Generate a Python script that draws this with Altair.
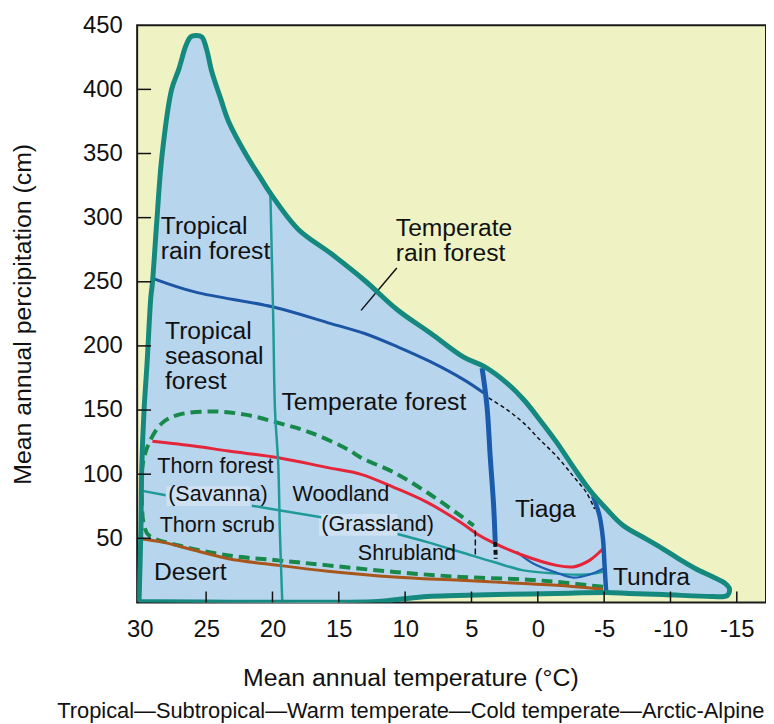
import altair as alt
import pandas as pd

# ---------------- data (temperature degC, precipitation cm) ----------------
outer_t = [30.05, 30.05, 29.92, 29.85, 29.68, 29.45, 29.17, 29.05, 28.72, 28.33, 27.6, 27.05, 26.53, 26.16,
           25.78, 25.33, 24.96, 24.58, 23.91, 23.31, 22.04, 20.84, 20.16, 18.07, 15.59, 13.05, 10.57,
           8.1, 5.56, 4.06, 2.33, 1.06, -0.14, -1.41, -2.68, -3.88, -5.16, -6.43, -8.15, -9.43, -10.62,
           -11.9, -13.17, -14.14, -14.44, -14.29, -13.17, -9.43, -6.88, -5.16, -1.41, 3.08, 6.08, 8.33,
           10.57, 12.07, 30.05]
outer_p = [0.8, 3, 55, 106, 150, 187, 238, 249, 297, 348, 400, 416, 434, 441,
           442, 441, 431, 414, 393, 375, 350, 330, 319, 291, 272, 251, 228,
           210, 191, 184, 171, 158, 142.5, 125, 105.5, 88, 73, 60, 49.6, 41.8, 34,
           26.3, 20.1, 14.7, 10.8, 5.4, 4.6, 6.2, 7.0, 7.7, 7.0, 6.2, 5.4, 4.6,
           2.3, 0.8, 0.8]

rain_t = [28.93, 25.8, 19.94, 15.59, 13.05, 10.57, 8.1, 5.56, 4.06]
rain_p = [252.3, 241.9, 230.3, 217.4, 209.7, 199.3, 187.7, 173.5, 163.2]

boreal_t = [4.06, 3.83, 2.33, 1.08, -0.14, -1.41, -2.66, -3.66, -4.28]
boreal_p = [163.2, 160.6, 150.3, 140.0, 127.0, 114.1, 98.6, 85.7, 72.8]

cold_t = [4.2, 3.83, 3.59, 3.33, 3.21]
cold_p = [182.6, 152.8, 114.1, 75.4, 47.2]
cold_dash_t = [3.21, 3.17]
cold_dash_p = [47.2, 34.0]
warm_dash_t = [4.71, 4.71]
warm_dash_p = [56.0, 36.6]

arctic_t = [-4.16, -4.65, -4.91, -5.03, -5.16]
arctic_p = [83.1, 67.6, 49.6, 28.9, 7.0]

tropic_t = [20.16, 19.94, 19.81, 19.56, 19.44, 19.26]
tropic_p = [319.0, 220.0, 150.3, 106.3, 54.8, 0]

red_t = [29.05, 25.8, 23.31, 19.56, 15.82, 13.32, 10.82, 8.33, 5.83, 4.58, 3.45, 1.08, -1.41, -2.66, -3.9, -4.91]
red_p = [125.7, 121.8, 118.0, 112.8, 105.1, 99.9, 89.6, 78.0, 62.5, 53.4, 47.0, 36.6, 28.9, 27.7, 32.8, 41.8]

green_t = [-4.91, -1.41, 1.08, 5.83, 10.82, 15.82, 19.56, 23.31, 27.05, 29.3, 29.68, 29.85, 29.8, 29.3,
           28.3, 27.05, 24.56, 22.06, 19.56, 17.07, 14.32, 13.32, 10.82, 8.33, 5.83, 4.83]
green_p = [12.2, 16.0, 18.0, 19.9, 23.8, 28.9, 32.8, 36.6, 44.4, 52.1, 59.9, 80.6, 106.3, 124.5,
           140.0, 146.4, 148.9, 146.4, 140.0, 132.2, 119.3, 112.8, 101.2, 85.7, 67.6, 59.9]

desert_t = [30.05, 28.3, 25.8, 23.31, 19.56, 15.82, 10.82, 5.83, 1.08, -1.41, -4.91]
desert_p = [49.6, 47.0, 40.5, 34.1, 28.9, 24.4, 19.9, 17.3, 14.7, 13.4, 10.3]

sav_seg = [0, 0, 1, 1, 2, 2, 2, 2, 2, 2, 2, 2]
sav_t = [29.8, 28.05, 21.56, 16.32, 10.57, 8.33, 5.83, 3.33, 1.08, -1.41, -3.66, -4.93]
sav_p = [87.0, 83.6, 75.4, 66.4, 53.4, 47.0, 39.3, 31.5, 25.0, 22.5, 21.7, 24.0]

taiga_low_t = [1.59, 0.31, -1.41, -2.68, -3.88, -4.93]
taiga_low_p = [39.5, 30.2, 23.2, 19.4, 21.7, 26.3]

leader_t = [13.32, 10.63]
leader_p = [227.7, 260.8]

big_labels = ["Tropical\nrain forest", "Temperate\nrain forest", "Tropical\nseasonal\nforest",
              "Temperate forest", "Tiaga", "Tundra", "Desert"]
big_t = [28.42, 10.7, 28.1, 19.32, 1.71, -5.66, 28.93]
big_p = [287.1, 285.8, 205.0, 150.3, 66.4, 13.4, 17.3]

small_labels = ["Thorn forest", "(Savanna)", "Thorn scrub", "Woodland", "(Grassland)", "Shrubland"]
small_t = [28.68, 27.86, 28.5, 18.49, 16.32, 13.57]
small_p = [100.7, 79.2, 54.8, 79.0, 56.0, 32.8]

# light highlight patches behind the two bracketed labels
box_t = [28.0, 16.5]
box_t2 = [21.7, 10.6]
box_p = [90.6, 68.9]
box_p2 = [75.1, 51.9]

x_labels = [30, 25, 20, 15, 10, 5, 0, -5, -10, -15]
x_ticks = [25, 20, 15, 10, 5, 0, -5, -10, -15]
y_labels = [50, 100, 150, 200, 250, 300, 350, 400, 450]
y_ticks = [50, 100, 150, 200, 250, 300, 350, 400]

# ---------------- styling ----------------
W, H = 633, 581
SANS = "Liberation Sans, Arial, Helvetica, sans-serif"
X_TITLE = "Mean annual temperature (°C)"
Y_TITLE = "Mean annual percipitation  (cm)"
BOTTOM = "Tropical\u2014Subtropical\u2014Warm temperate\u2014Cold temperate\u2014Arctic-Alpine"

xscale = alt.Scale(domain=[30.2, -17.2], nice=False, zero=False)
yscale = alt.Scale(domain=[0, 450], nice=False, zero=False)

x_axis = alt.Axis(values=x_labels, labelExpr="'' + datum.value", ticks=False, domain=False, grid=False,
                  labelFont=SANS, labelFontSize=24, labelColor="#111", labelPadding=15,
                  labelFlush=False, labelOverlap=False,
                  titleFont=SANS, titleFontSize=25, titleFontWeight="normal", titleColor="#111",
                  titlePadding=25, titleX=275)
y_axis = alt.Axis(values=y_labels, ticks=False, domain=False, grid=False,
                  labelFont=SANS, labelFontSize=24, labelColor="#111", labelPadding=15,
                  labelFlush=False, labelOverlap=False,
                  titleFont=SANS, titleFontSize=25, titleFontWeight="normal", titleColor="#111",
                  titlePadding=47)


def X(field="t"):
    return alt.X(f"{field}:Q", scale=xscale, axis=x_axis, title=X_TITLE)


def Y(field="p"):
    return alt.Y(f"{field}:Q", scale=yscale, axis=y_axis, title=Y_TITLE)


def path(ts, ps, seg=None):
    d = pd.DataFrame({"t": ts, "p": ps})
    d["i"] = range(len(d))
    d["seg"] = seg if seg is not None else 0
    return d


def line(ts, ps, color, width, dash=None, interp="catmull-rom", seg=None):
    kw = dict(color=color, strokeWidth=width, interpolate=interp, strokeCap="butt", clip=True)
    if dash:
        kw["strokeDash"] = dash
    return alt.Chart(path(ts, ps, seg)).mark_line(**kw).encode(
        x=X(), y=Y(), order="i:Q", detail="seg:N")


TEAL = "#15897d"
fill = alt.Chart(path(outer_t, outer_p)).mark_line(
    fill="#b8d5ee", stroke="#b8d5ee", strokeWidth=1, interpolate="catmull-rom").encode(
    x=X(), y=Y(), order="i:Q")
outline = line(outer_t, outer_p, TEAL, 5)

boxes = alt.Chart(pd.DataFrame({"t": box_t, "t2": box_t2, "p": box_p, "p2": box_p2})).mark_rect(
    color="#cde1f2").encode(x=X(), x2="t2:Q", y=Y(), y2="p2:Q")

layers = [
    fill,
    boxes,
    line(sav_t, sav_p, "#1f9a98", 2.5, seg=sav_seg),
    line(taiga_low_t, taiga_low_p, "#1d5fb0", 2.2),
    line(green_t, green_p, "#17894a", 4, dash=[11, 6]),
    line(desert_t, desert_p, "#a8561c", 3),
    line(red_t, red_p, "#e3263a", 3),
    line(rain_t, rain_p, "#1b55a3", 3),
    line(boreal_t, boreal_p, "#111111", 1.5, dash=[4, 3]),
    line(tropic_t, tropic_p, "#1f9a98", 2.5),
    line(cold_t, cold_p, "#1b5bac", 5),
    line(cold_dash_t, cold_dash_p, "#111111", 4, dash=[5, 3], interp="linear"),
    line(warm_dash_t, warm_dash_p, "#111111", 1.5, dash=[6, 3], interp="linear"),
    line(arctic_t, arctic_p, "#1b5bac", 4.5),
    line(leader_t, leader_p, "#111111", 1.5, interp="linear"),
    outline,
    alt.Chart(pd.DataFrame({"t": big_t, "p": big_p, "lab": big_labels})).mark_text(
        align="left", baseline="alphabetic", font=SANS, fontSize=24.8, lineHeight=25,
        lineBreak="\n", color="#111").encode(x=X(), y=Y(), text="lab:N"),
    alt.Chart(pd.DataFrame({"t": small_t, "p": small_p, "lab": small_labels})).mark_text(
        align="left", baseline="alphabetic", font=SANS, fontSize=21.7, color="#111").encode(
        x=X(), y=Y(), text="lab:N"),
    alt.Chart(pd.DataFrame({"tick": x_ticks})).mark_rule(color="#111", strokeWidth=1.5).encode(
        x=X("tick"), y=alt.value(H), y2=alt.value(H - 11)),
    alt.Chart(pd.DataFrame({"tick": y_ticks})).mark_rule(color="#111", strokeWidth=1.5).encode(
        y=Y("tick"), x=alt.value(0), x2=alt.value(14)),
]

chart = alt.layer(*layers).properties(
    width=W, height=H,
    autosize=alt.AutoSizeParams(type="none"),
    padding={"left": 130, "top": 15, "right": 0, "bottom": 120},
    title=alt.TitleParams(BOTTOM, orient="bottom", anchor="middle", dx=-41, offset=10, font=SANS,
                          fontSize=22, fontWeight="normal", color="#111"),
).configure_view(fill="#eff3c4", stroke="#1a1a1a", strokeWidth=2)

chart.save("out.html", embed_options={"renderer": "svg", "actions": False})
